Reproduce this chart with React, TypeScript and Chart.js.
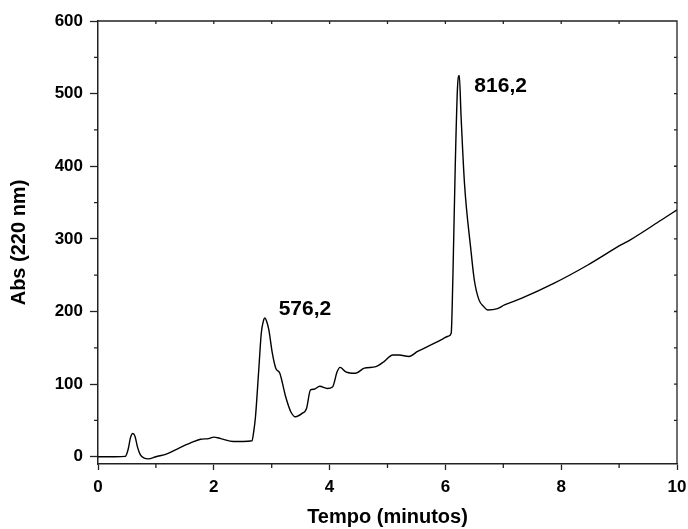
import React, { useEffect, useRef } from "react";
import { Chart, registerables } from "chart.js";

Chart.register(...registerables);

// Retention time (minutes)
const timeMin: number[] = [
  0, 0.3, 0.47, 0.52, 0.56, 0.6, 0.64, 0.68, 0.73, 0.8, 0.87, 1.0, 1.19, 1.4, 1.6, 1.77, 1.91, 2.0, 2.12, 2.34, 2.5,
  2.66, 2.69, 2.72, 2.78, 2.82, 2.86, 2.88, 2.91, 2.95, 3.01, 3.07, 3.14, 3.24, 3.33, 3.41, 3.53, 3.6, 3.67, 3.73,
  3.83, 3.96, 4.05, 4.13, 4.18, 4.28, 4.45, 4.6, 4.8, 4.94, 5.09, 5.2, 5.37, 5.52, 5.75, 5.95, 6.05, 6.1, 6.13, 6.17,
  6.21, 6.24, 6.27, 6.33, 6.44, 6.5, 6.58, 6.66, 6.73, 6.9, 7.02, 7.31, 7.88, 8.46, 9.04, 9.18, 9.73, 10,
];
// Absorbance at 220 nm
const absorbance: number[] = [
  0, 0, 0.5, 10, 26, 32, 28, 14, 3, -2, -3, 0, 4, 12, 19, 24, 25, 27, 25, 21, 21,
  22, 35, 55, 124, 170, 188, 191, 187, 175, 143, 122, 115, 83, 62, 55, 60, 66, 92, 93,
  97, 94, 96, 117, 123, 117, 115, 122, 124, 131, 140, 140, 138, 145, 154, 162, 166, 170, 250, 400,
  510, 525, 470, 376, 285, 243, 216, 207, 202, 204, 209, 218, 239, 264, 292, 298, 326, 340,
];

const xMajorTicks: number[] = [0, 2, 4, 6, 8, 10];
const xMinorTicks: number[] = [1, 3, 5, 7, 9];
const xTopTicks: number[] = [1, 2, 3, 4, 5, 6, 7, 8, 9];
const yMajorTicks: number[] = [0, 100, 200, 300, 400, 500, 600];
const yMinorTicks: number[] = [50, 150, 250, 350, 450, 550];
const yRightTicks: number[] = [50, 100, 150, 200, 250, 300, 350, 400, 450, 500, 550];

const peakLabels: string[] = ["576,2", "816,2"];
const peakLabelX: number[] = [3.12, 6.5];
const peakLabelY: number[] = [195, 502];

const FONT = '"Liberation Sans", Arial, Helvetica, sans-serif';
const AXIS = "#222";

const frameTicks = {
  id: "frameTicks",
  afterDraw(chart: any) {
    const { ctx, chartArea } = chart;
    const { left, right, top, bottom } = chartArea;
    const xs = chart.scales.x;
    const ys = chart.scales.y;
    ctx.save();
    ctx.strokeStyle = AXIS;
    ctx.lineWidth = 1.3;
    ctx.beginPath();
    ctx.moveTo(left, top);
    ctx.lineTo(right, top);
    ctx.lineTo(right, bottom);
    for (const v of xMinorTicks) {
      const px = xs.getPixelForValue(v);
      ctx.moveTo(px, bottom);
      ctx.lineTo(px, bottom + 4);
    }
    for (const v of yMinorTicks) {
      const py = ys.getPixelForValue(v);
      ctx.moveTo(left, py);
      ctx.lineTo(left - 4, py);
    }
    for (const v of xTopTicks) {
      const px = xs.getPixelForValue(v);
      ctx.moveTo(px, top);
      ctx.lineTo(px, top + 3);
    }
    for (const v of yRightTicks) {
      const py = ys.getPixelForValue(v);
      ctx.moveTo(right, py);
      ctx.lineTo(right - 3, py);
    }
    ctx.stroke();

    ctx.fillStyle = "#000";
    ctx.font = `bold 21px ${FONT}`;
    ctx.textAlign = "left";
    ctx.textBaseline = "alphabetic";
    peakLabels.forEach((t, i) => {
      ctx.fillText(t, xs.getPixelForValue(peakLabelX[i]), ys.getPixelForValue(peakLabelY[i]));
    });
    ctx.restore();
  },
};

export default function App() {
  const ref = useRef<HTMLCanvasElement | null>(null);

  useEffect(() => {
    if (!ref.current) return;
    const points = timeMin.map((t, i) => ({ x: t, y: absorbance[i] }));
    const chart = new Chart(ref.current, {
      type: "line",
      data: {
        datasets: [
          {
            data: points,
            borderColor: "#000",
            borderWidth: 1.4,
            pointRadius: 0,
            fill: false,
            cubicInterpolationMode: "monotone",
          },
        ],
      },
      options: {
        responsive: false,
        animation: false,
        events: [],
        layout: { padding: { left: 0, right: 11, top: 21, bottom: 0 } },
        plugins: { legend: { display: false }, tooltip: { enabled: false } },
        scales: {
          x: {
            type: "linear",
            min: 0,
            max: 10,
            afterBuildTicks: (s: any) => {
              s.ticks = xMajorTicks.map((v) => ({ value: v }));
            },
            afterFit: (s: any) => {
              s.height = 65;
              s.paddingLeft = 0;
              s.paddingRight = 0;
            },
            border: { display: true, color: AXIS, width: 1.5 },
            grid: { drawOnChartArea: false, drawTicks: true, tickLength: 6, color: AXIS, tickWidth: 1.3 },
            ticks: {
              color: "#000",
              padding: 7,
              maxRotation: 0,
              font: { family: FONT, size: 17, weight: "bold" },
              callback: (v: any) => String(v),
            },
            title: {
              display: true,
              text: "Tempo (minutos)",
              color: "#000",
              font: { family: FONT, size: 20, weight: "bold" },
              padding: { top: 0, bottom: 0 },
            },
          },
          y: {
            type: "linear",
            min: -10,
            max: 600,
            afterBuildTicks: (s: any) => {
              s.ticks = yMajorTicks.map((v) => ({ value: v }));
            },
            afterFit: (s: any) => {
              s.width = 98;
              s.paddingTop = 0;
              s.paddingBottom = 0;
            },
            border: { display: true, color: AXIS, width: 1.5 },
            grid: { drawOnChartArea: false, drawTicks: true, tickLength: 8, color: AXIS, tickWidth: 1.3 },
            ticks: {
              color: "#000",
              padding: 7,
              font: { family: FONT, size: 17, weight: "bold" },
              callback: (v: any) => String(v),
            },
            title: {
              display: true,
              text: "Abs (220 nm)",
              color: "#000",
              font: { family: FONT, size: 20, weight: "bold" },
              padding: { top: 7, bottom: 0 },
            },
          },
        },
      },
      plugins: [frameTicks],
    });
    return () => chart.destroy();
  }, []);

  return (
    <div style={{ position: "fixed", left: 0, top: 0, width: 688, height: 529, background: "#fff" }}>
      <canvas ref={ref} width={688} height={529} style={{ display: "block" }} />
    </div>
  );
}
